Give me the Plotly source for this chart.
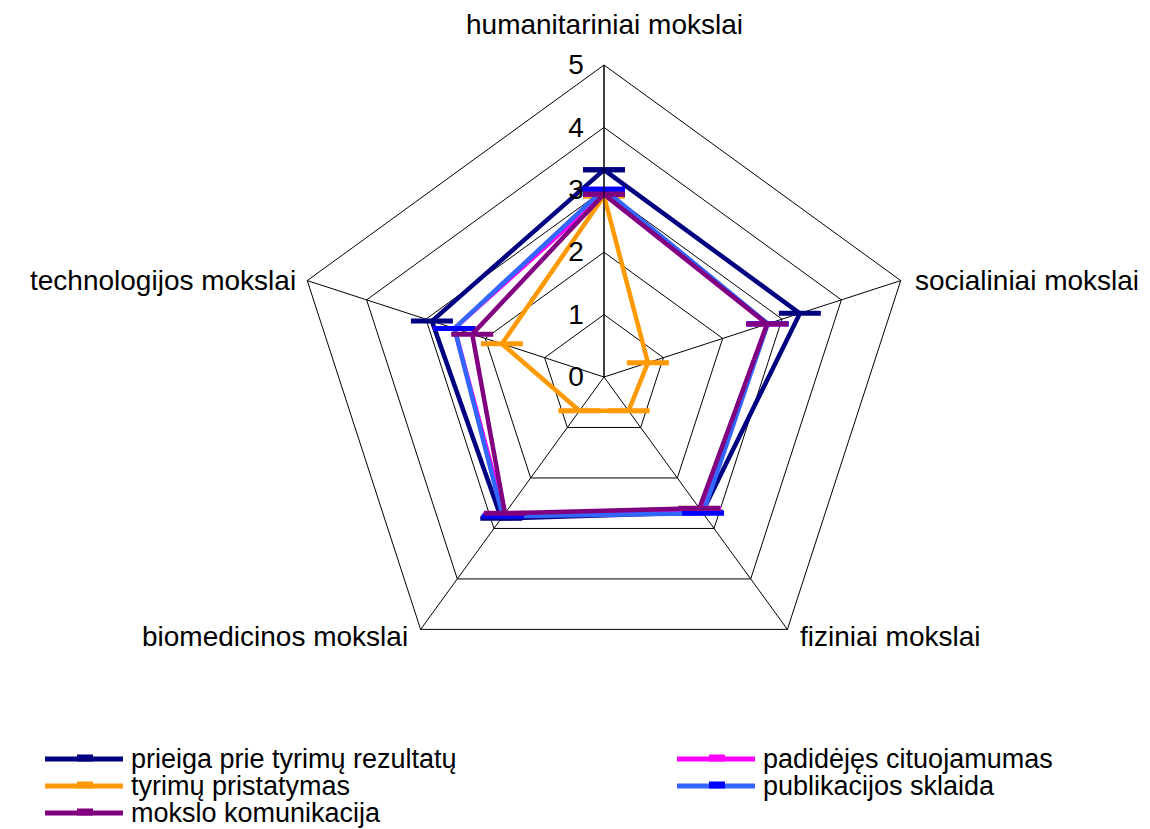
import math
import plotly.graph_objects as go

categories = ["humanitariniai mokslai", "socialiniai mokslai", "fiziniai mokslai",
              "biomedicinos mokslai", "technologijos mokslai"]
radial_ticks = [0, 1, 2, 3, 4, 5]

prieiga = [3.32, 3.30, 2.68, 2.80, 2.90]
padidejes = [2.93, 2.75, 2.62, 2.72, 2.52]
pristatymas = [2.90, 0.74, 0.67, 0.67, 1.72]
sklaida = [3.01, 2.76, 2.70, 2.76, 2.52]
komunikacija = [2.93, 2.75, 2.60, 2.70, 2.22]

series_names = ["prieiga prie tyrimų rezultatų", "padidėjęs cituojamumas",
                "tyrimų pristatymas", "publikacijos sklaida", "mokslo komunikacija"]
series_values = [prieiga, padidejes, pristatymas, sklaida, komunikacija]
line_colors = ["#000080", "#FF00FF", "#FF9900", "#3366FF", "#800080"]
marker_colors = ["#000080", "#FF00FF", "#FF9900", "#0000FF", "#800080"]

# page body has an 8px margin; work in window pixels and convert
OFF = 8
W, H = 1150 - OFF, 829 - OFF
def px(X):
    return (X - OFF) / W
def py(Y):
    return 1 - (Y - OFF) / H

FONT = "Liberation Sans, Arial, sans-serif"
CX, CY, R = 604, 377, 312

fig = go.Figure()
for name, vals, lc, mc in zip(series_names, series_values, line_colors, marker_colors):
    fig.add_trace(go.Scatterpolar(
        r=vals + vals[:1], theta=categories + categories[:1], name=name,
        mode="lines+markers", showlegend=False,
        line=dict(color=lc, width=4.5),
        marker=dict(symbol="line-ew", size=30, color=mc, line=dict(color=mc, width=5)),
    ))

shapes = []
annotations = []

# category labels placed around the pentagon vertices
label_offsets = [(0, -40, "center"), (12, 0, "left"), (11, 7, "left"),
                 (-11, 7, "right"), (-9, 0, "right")]
for i, (cat, (dx, dy, anc)) in enumerate(zip(categories, label_offsets)):
    ang = math.radians(90 - 72 * i)
    vx = CX + R * math.cos(ang)
    vy = CY - R * math.sin(ang)
    annotations.append(dict(xref="paper", yref="paper", x=px(vx + dx), y=py(vy + dy),
                            xanchor=anc, yanchor="middle", showarrow=False, text=cat,
                            font=dict(size=28, family=FONT, color="black")))

# custom legend (two columns, Excel-like)
legend_pos = [(45, 759), (677, 759), (45, 786), (677, 786), (45, 813)]
for (x0, yp), name, lc, mc in zip(legend_pos, series_names, line_colors, marker_colors):
    shapes.append(dict(type="line", xref="paper", yref="paper",
                       x0=px(x0), x1=px(x0 + 78), y0=py(yp), y1=py(yp),
                       line=dict(color=lc, width=5)))
    shapes.append(dict(type="line", xref="paper", yref="paper",
                       x0=px(x0 + 32), x1=px(x0 + 48), y0=py(yp - 1), y1=py(yp - 1),
                       line=dict(color=mc, width=7)))
    annotations.append(dict(xref="paper", yref="paper", x=px(x0 + 84), y=py(yp),
                            xanchor="left", yanchor="middle", showarrow=False,
                            text=name, font=dict(size=27, family=FONT, color="black")))

fig.update_layout(
    width=W, height=H,
    margin=dict(l=0, r=0, t=0, b=0),
    paper_bgcolor="white", plot_bgcolor="white",
    font=dict(family=FONT, size=28, color="black"),
    showlegend=False,
    shapes=shapes, annotations=annotations,
    polar=dict(
        domain=dict(x=[px(CX - R), px(CX + R)], y=[py(CY + R), py(CY - R)]),
        bgcolor="white",
        gridshape="linear",
        angularaxis=dict(direction="clockwise", rotation=90, showline=True,
                         linecolor="black", linewidth=1, gridcolor="black", gridwidth=1,
                         ticks="", showticklabels=False),
        radialaxis=dict(range=[0, 5], tickvals=radial_ticks, angle=90,
                        showline=True, linecolor="black", linewidth=1,
                        gridcolor="black", gridwidth=1,
                        ticks="outside", ticklen=10, tickcolor="rgba(0,0,0,0)",
                        tickangle=90, side="counterclockwise",
                        tickfont=dict(size=28, family=FONT)),
    ),
)

fig.write_html("out.html")
